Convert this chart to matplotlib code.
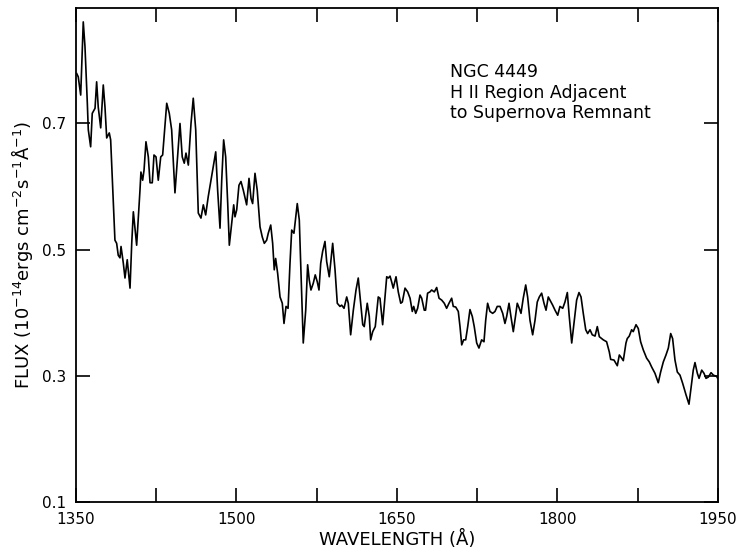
import matplotlib
matplotlib.use("Agg")
import matplotlib.pyplot as plt
import numpy as np

plt.rcParams['font.family'] = ['DejaVu Sans']
plt.rcParams['mathtext.fontset'] = 'dejavusans'

# spectrum: wavelength (A) and flux (1e-14 erg/cm2/s/A)
wavelength = [
    1350.7, 1352.1, 1354.4, 1356.8, 1358.4, 1360.6, 1361.5, 1363.7, 1365.2, 1367.8,
    1369.3, 1370.8, 1373.1, 1375.5, 1377.1, 1378.7, 1381.1, 1382.4, 1386.4, 1388.0,
    1389.5, 1391.1, 1392.1, 1394.2, 1395.8, 1397.9, 1400.5, 1402.1, 1403.6, 1406.7,
    1409.8, 1410.7, 1412.3, 1413.6, 1415.4, 1417.6, 1419.2, 1421.3, 1422.9, 1424.8,
    1426.9, 1429.2, 1431.0, 1434.8, 1437.2, 1439.4, 1442.5, 1447.2, 1449.3, 1451.2,
    1452.8, 1455.0, 1457.5, 1459.6, 1461.9, 1464.3, 1466.8, 1469.0, 1471.2, 1473.6,
    1476.8, 1480.6, 1482.4, 1484.6, 1486.2, 1488.0, 1489.9, 1491.8, 1493.3, 1495.5,
    1497.4, 1498.6, 1500.2, 1502.3, 1504.2, 1506.4, 1509.5, 1511.7, 1513.6, 1515.1,
    1517.3, 1519.4, 1522.0, 1524.1, 1526.0, 1528.2, 1529.7, 1532.0, 1533.8, 1535.3,
    1536.6, 1538.5, 1540.7, 1542.8, 1544.4, 1546.3, 1548.2, 1550.0, 1551.6, 1553.7,
    1556.8, 1558.7, 1560.0, 1562.4, 1564.7, 1566.5, 1568.0, 1569.6, 1571.8, 1573.6,
    1575.5, 1577.1, 1578.7, 1580.5, 1582.7, 1584.3, 1586.7, 1588.3, 1589.9, 1592.1,
    1594.2, 1596.7, 1598.3, 1600.5, 1603.0, 1604.5, 1606.7, 1609.2, 1611.7, 1613.8,
    1616.1, 1618.0, 1619.4, 1622.2, 1624.1, 1625.4, 1627.3, 1629.7, 1632.5, 1634.1,
    1636.6, 1638.8, 1640.4, 1641.9, 1643.5, 1645.0, 1646.5, 1649.1, 1651.2, 1653.5,
    1655.0, 1657.5, 1660.0, 1662.2, 1664.3, 1665.6, 1667.5, 1669.3, 1671.5, 1673.1,
    1675.5, 1676.7, 1678.6, 1680.8, 1682.4, 1684.9, 1687.1, 1689.3, 1691.8, 1694.2,
    1696.4, 1698.6, 1701.1, 1702.6, 1704.9, 1707.3, 1708.9, 1710.5, 1712.3, 1714.2,
    1716.1, 1718.2, 1720.4, 1722.2, 1724.5, 1726.6, 1729.1, 1731.3, 1732.9, 1734.7,
    1736.9, 1739.4, 1741.6, 1743.7, 1746.3, 1748.8, 1750.9, 1752.5, 1754.7, 1756.5,
    1758.7, 1760.9, 1762.4, 1764.3, 1765.9, 1768.0, 1770.3, 1772.1, 1774.3, 1776.8,
    1779.0, 1781.1, 1783.0, 1785.2, 1787.4, 1789.3, 1791.4, 1793.0, 1795.5, 1797.7,
    1800.2, 1802.3, 1804.9, 1807.0, 1809.2, 1811.0, 1813.3, 1815.4, 1817.9, 1820.1,
    1822.0, 1824.1, 1826.4, 1828.2, 1830.4, 1832.5, 1835.1, 1837.2, 1839.1, 1842.8,
    1845.9, 1848.4, 1849.7, 1852.8, 1855.9, 1857.8, 1860.0, 1861.5, 1864.0, 1865.2,
    1867.1, 1869.3, 1870.8, 1873.4, 1875.5, 1877.7, 1880.2, 1883.3, 1885.8, 1888.0,
    1891.1, 1894.2, 1896.4, 1898.9, 1901.4, 1903.6, 1905.8, 1907.6, 1909.8, 1912.0,
    1914.5, 1917.0, 1920.1, 1922.9, 1925.4, 1926.9, 1928.5, 1930.7, 1932.3, 1934.8,
    1936.9, 1938.8, 1941.0, 1943.5, 1945.7, 1948.8, 1949.7,
]
flux = [
    0.779, 0.774, 0.745, 0.861, 0.822, 0.732, 0.690, 0.663, 0.716, 0.724,
    0.766, 0.726, 0.693, 0.761, 0.726, 0.677, 0.685, 0.674, 0.515, 0.510,
    0.491, 0.487, 0.505, 0.479, 0.455, 0.484, 0.439, 0.510, 0.560, 0.507,
    0.594, 0.623, 0.610, 0.626, 0.671, 0.647, 0.606, 0.606, 0.650, 0.647,
    0.610, 0.647, 0.650, 0.732, 0.716, 0.690, 0.590, 0.700, 0.647, 0.637,
    0.653, 0.634, 0.700, 0.740, 0.690, 0.558, 0.550, 0.571, 0.555, 0.584,
    0.616, 0.655, 0.594, 0.534, 0.610, 0.674, 0.647, 0.573, 0.507, 0.542,
    0.571, 0.552, 0.563, 0.602, 0.608, 0.594, 0.571, 0.613, 0.581, 0.573,
    0.621, 0.594, 0.536, 0.520, 0.510, 0.515, 0.526, 0.539, 0.510, 0.468,
    0.486, 0.462, 0.425, 0.415, 0.383, 0.410, 0.407, 0.478, 0.531, 0.526,
    0.573, 0.547, 0.478, 0.352, 0.404, 0.476, 0.452, 0.436, 0.447, 0.460,
    0.449, 0.436, 0.478, 0.497, 0.513, 0.481, 0.457, 0.484, 0.510, 0.468,
    0.415, 0.410, 0.412, 0.407, 0.425, 0.415, 0.365, 0.404, 0.436, 0.455,
    0.415, 0.381, 0.378, 0.415, 0.394, 0.357, 0.370, 0.378, 0.425, 0.423,
    0.381, 0.425, 0.457, 0.455, 0.458, 0.449, 0.439, 0.457, 0.433, 0.415,
    0.417, 0.439, 0.433, 0.423, 0.402, 0.410, 0.399, 0.407, 0.428, 0.423,
    0.404, 0.404, 0.431, 0.433, 0.436, 0.433, 0.440, 0.423, 0.420, 0.415,
    0.407, 0.415, 0.423, 0.410, 0.409, 0.402, 0.378, 0.349, 0.357, 0.357,
    0.378, 0.405, 0.394, 0.378, 0.352, 0.344, 0.357, 0.354, 0.388, 0.415,
    0.402, 0.399, 0.402, 0.410, 0.410, 0.399, 0.383, 0.394, 0.415, 0.394,
    0.370, 0.396, 0.415, 0.407, 0.399, 0.423, 0.444, 0.425, 0.388, 0.365,
    0.388, 0.417, 0.425, 0.431, 0.415, 0.404, 0.425, 0.420, 0.412, 0.404,
    0.396, 0.410, 0.407, 0.417, 0.432, 0.394, 0.352, 0.383, 0.420, 0.432,
    0.425, 0.399, 0.373, 0.367, 0.373, 0.365, 0.363, 0.378, 0.362, 0.357,
    0.354, 0.338, 0.326, 0.325, 0.316, 0.333, 0.328, 0.324, 0.352, 0.359,
    0.363, 0.373, 0.370, 0.381, 0.375, 0.354, 0.341, 0.328, 0.322, 0.314,
    0.304, 0.289, 0.306, 0.322, 0.333, 0.344, 0.367, 0.359, 0.325, 0.306,
    0.301, 0.288, 0.270, 0.255, 0.288, 0.309, 0.321, 0.304, 0.296, 0.309,
    0.304, 0.296, 0.298, 0.305, 0.301, 0.299, 0.296,
]

xticks = [1350, 1500, 1650, 1800, 1950]
xminor = [1425, 1575, 1725, 1875]
yticks = [0.1, 0.3, 0.5, 0.7]
ylabels = ['0.1', '0.3', '0.5', '0.7']
notes = ['NGC 4449', 'H II Region Adjacent', 'to Supernova Remnant']

fig = plt.figure(figsize=(7.37, 5.52), dpi=100)
ax = fig.add_axes([0.1031, 0.0906, 0.8711, 0.8949])

ax.plot(wavelength, flux, color='black', lw=1.2)

ax.set_xlim(1350, 1950)
ax.set_ylim(0.1, 0.883)
ax.set_xticks(xticks)
ax.set_xticks(xminor, minor=True)
ax.set_yticks(yticks)
ax.set_yticklabels(ylabels)

ax.tick_params(which='both', direction='in', length=10, width=1.2,
               top=True, right=True, labelsize=11, pad=7)
for sp in ax.spines.values():
    sp.set_linewidth(1.3)

ax.set_xlabel('WAVELENGTH (Å)', fontsize=13, labelpad=2)
ax.set_ylabel(r'FLUX (10$^{-14}$ergs cm$^{-2}$s$^{-1}$Å$^{-1}$)', fontsize=13, labelpad=5)

# annotation block, upper right
for i, s in enumerate(notes):
    ax.text(1700, 0.781 - i * 0.0325, s, fontsize=12.5, va='center')

fig.savefig('out.png', dpi=100)
